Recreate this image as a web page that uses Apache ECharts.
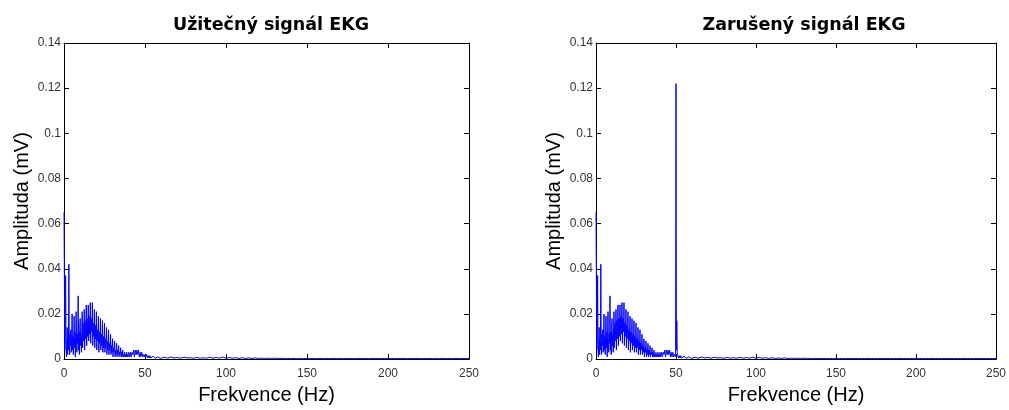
<!DOCTYPE html>
<html>
<head>
<meta charset="utf-8">
<script src="https://cdn.jsdelivr.net/npm/echarts@6/dist/echarts.min.js"></script>
<style>
html,body{margin:0;padding:0;background:#fff;}
#chart{width:1009px;height:410px;}
</style>
</head>
<body>
<div id="chart"></div>
<script>
// Titles and axis texts
const titles = ['Užitečný signál EKG', 'Zarušený signál EKG'];
const xName = 'Frekvence (Hz)';
const yName = 'Amplituda (mV)';

// Spectrum amplitude (mV), segment 1: 0 .. 40 Hz, step 0.25 Hz
const seg1Start = 0, seg1Step = 0.25;
const ampSeg1 = [
  0.065,0.036,0.004,0.012,0.037,0.006,0.001,0.009,0.014,0.002,0.008,0.004,0.042,0.007,0.002,0.011,0.006,0.013,0.003,0.008,
  0.020,0.004,0.010,0.002,0.009,0.019,0.005,0.012,0.001,0.010,0.021,0.006,0.003,0.011,0.007,0.028,0.004,0.012,0.002,0.013,
  0.018,0.006,0.011,0.003,0.014,0.021,0.005,0.016,0.008,0.012,0.022,0.004,0.017,0.009,0.014,0.024,0.006,0.018,0.010,0.015,
  0.024,0.008,0.019,0.011,0.016,0.025,0.007,0.018,0.012,0.015,0.025,0.006,0.016,0.010,0.014,0.022,0.005,0.015,0.009,0.013,
  0.021,0.004,0.013,0.008,0.012,0.019,0.003,0.012,0.007,0.010,0.018,0.004,0.011,0.006,0.009,0.017,0.003,0.010,0.005,0.008,
  0.016,0.003,0.009,0.005,0.008,0.014,0.002,0.008,0.004,0.007,0.013,0.002,0.007,0.004,0.006,0.011,0.002,0.006,0.003,0.005,
  0.009,0.001,0.005,0.003,0.005,0.008,0.001,0.004,0.002,0.004,0.007,0.001,0.004,0.002,0.003,0.006,0.001,0.003,0.002,0.003,
  0.005,0.001,0.003,0.001,0.002,0.004,0.001,0.002,0.001,0.002,0.003,0.001,0.002,0.001,0.002,0.003,0.001,0.002,0.001,0.002,
  0.003
];
// Segment 2: 40.5 .. 60 Hz, step 0.5 Hz
const seg2Start = 40.5, seg2Step = 0.5;
const ampSeg2 = [
  0.001,0.003,0.001,0.003,0.002,0.004,0.001,0.004,0.002,0.004,
  0.002,0.004,0.001,0.003,0.001,0.003,0.001,0.002,0.001,0.002,
  0.001,0.002,0.0005,0.0015,0.0005,0.0015,0.0005,0.0012,0.0004,0.0012,
  0.0004,0.001,0.0004,0.001,0.0003,0.001,0.0003,0.0009,0.0003,0.0009
];
// Segment 3: 62 .. 250 Hz, step 2 Hz
const seg3Start = 62, seg3Step = 2;
const ampSeg3 = [
  0.0008,0.0004,0.0009,0.0005,0.0007,0.0004,0.0008,0.0005,0.0006,0.0004,0.0007,0.0004,0.0006,0.0004,0.0008,0.0004,0.0007,0.0004,0.0009,0.0004,
  0.0007,0.0004,0.0006,0.0003,0.0006,0.0003,0.0005,0.0003,0.0005,0.0003,0.0004,0.0003,0.0004,0.0003,0.0004,0.0003,0.0003,0.0003,0.0003,0.0002,
  0.0003,0.0002,0.0003,0.0002,0.0003,0.0002,0.0003,0.0002,0.0003,0.0002,0.0003,0.0002,0.0003,0.0002,0.0003,0.0002,0.0003,0.0002,0.0003,0.0002,
  0.0003,0.0002,0.0003,0.0002,0.0003,0.0002,0.0003,0.0002,0.0003,0.0002,0.0003,0.0002,0.0003,0.0002,0.0003,0.0002,0.0003,0.0002,0.0003,0.0002,
  0.0003,0.0002,0.0003,0.0002,0.0003,0.0002,0.0003,0.0002,0.0003,0.0002,0.0003,0.0002,0.0003,0.0002,0.0003
];
// 50 Hz mains interference added in the noisy signal
const humFreq = [49.75, 50.0, 50.25, 50.5, 50.75];
const humAmp  = [0.002, 0.122, 0.004, 0.017, 0.003];

// Axis ticks
const xTicks = [0, 50, 100, 150, 200, 250];
const yTicks = [0, 0.02, 0.04, 0.06, 0.08, 0.1, 0.12, 0.14];

function segPairs(start, step, arr) {
  return arr.map((v, i) => [+(start + i * step).toFixed(4), v]);
}
const cleanData = []
  .concat(segPairs(seg1Start, seg1Step, ampSeg1))
  .concat(segPairs(seg2Start, seg2Step, ampSeg2))
  .concat(segPairs(seg3Start, seg3Step, ampSeg3));
const noisyData = cleanData
  .filter(p => humFreq.indexOf(p[0]) < 0)
  .concat(humFreq.map((f, i) => [f, humAmp[i]]))
  .sort((a, b) => a[0] - b[0]);

const chart = echarts.init(document.getElementById('chart'), null, {renderer: 'canvas'});
const font = 'Liberation Sans, Arial, sans-serif';
const grids = [
  {left: 64, top: 43, width: 405, height: 324},
  {left: 596, top: 43, width: 406, height: 324}
];
const xAxes = [], yAxes = [];
grids.forEach((g, gi) => {
  const lineStyle = {color: '#000', width: 1};
  xAxes.push({
    gridIndex: gi, type: 'value', min: xTicks[0], max: xTicks[xTicks.length - 1], interval: 50,
    position: 'bottom',
    name: xName, nameLocation: 'middle', nameGap: 24,
    nameTextStyle: {fontFamily: font, fontSize: 20, color: '#000'},
    axisLine: {show: true, onZero: false, lineStyle},
    axisTick: {show: true, inside: true, length: 5, lineStyle},
    axisLabel: {fontFamily: font, fontSize: 12, color: '#333', margin: 9},
    splitLine: {show: false}
  });
  xAxes.push({
    gridIndex: gi, type: 'value', min: 0, max: 250, interval: 50, position: 'top',
    axisLine: {show: true, onZero: false, lineStyle},
    axisTick: {show: true, inside: true, length: 5, lineStyle},
    axisLabel: {show: false}, splitLine: {show: false}
  });
  yAxes.push({
    gridIndex: gi, type: 'value', min: yTicks[0], max: yTicks[yTicks.length - 1], interval: 0.02,
    position: 'left',
    name: yName, nameLocation: 'middle', nameGap: 32, nameRotate: 90,
    nameTextStyle: {fontFamily: font, fontSize: 20, color: '#000'},
    axisLine: {show: true, onZero: false, lineStyle},
    axisTick: {show: true, inside: true, length: 5, lineStyle},
    axisLabel: {fontFamily: font, fontSize: 12, color: '#333', margin: 3,
      formatter: v => String(+v.toFixed(2))},
    splitLine: {show: false}
  });
  yAxes.push({
    gridIndex: gi, type: 'value', min: 0, max: 0.14, interval: 0.02, position: 'right',
    axisLine: {show: true, onZero: false, lineStyle},
    axisTick: {show: true, inside: true, length: 5, lineStyle},
    axisLabel: {show: false}, splitLine: {show: false}
  });
});

const titleStyle = {fontFamily: 'DejaVu Sans, sans-serif', fontSize: 17.5, fontWeight: 'bold', color: '#000'};
chart.setOption({
  animation: false,
  backgroundColor: '#fff',
  title: [
    {text: titles[0], left: 266, top: 11, textAlign: 'center', textStyle: titleStyle},
    {text: titles[1], left: 799, top: 11, textAlign: 'center', textStyle: titleStyle}
  ],
  grid: grids,
  xAxis: xAxes,
  yAxis: yAxes,
  series: [
    {type: 'line', xAxisIndex: 0, yAxisIndex: 0, data: cleanData, showSymbol: false,
     sampling: null, lineStyle: {color: '#0000ff', width: 1}, itemStyle: {color: '#0000ff'}},
    {type: 'line', xAxisIndex: 2, yAxisIndex: 2, data: noisyData, showSymbol: false,
     sampling: null, lineStyle: {color: '#0000ff', width: 1}, itemStyle: {color: '#0000ff'}}
  ]
});
</script>
</body>
</html>
